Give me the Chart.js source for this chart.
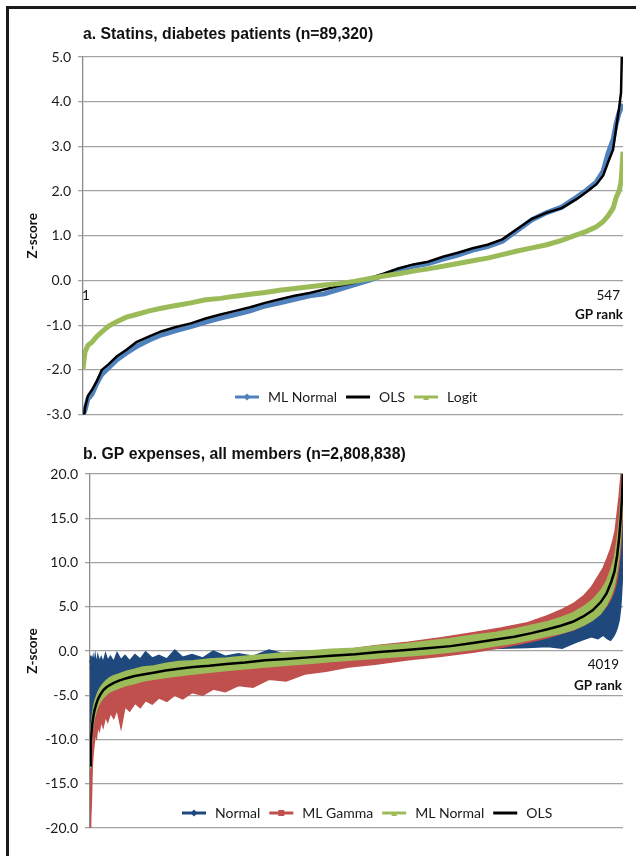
<!DOCTYPE html>
<html lang="en">
<head>
<meta charset="UTF-8">
<title>GP rank Z-scores</title>
<script src="https://cdn.jsdelivr.net/npm/chart.js@4.4.0/dist/chart.umd.min.js"></script>
<style>
  html, body { margin: 0; overflow: hidden; }
  body { background: #fff; width: 636px; height: 856px; position: relative; }
  .bar { position: absolute; background: #1a1a1a; }
  #barTop { left: 6px; top: 6px; width: 630px; height: 3px; }
  #barLeft { left: 6px; top: 6px; width: 3px; height: 850px; }
  canvas { position: absolute; left: 0; }
  #chartA { top: 0; }
  #chartB { top: 430px; }
</style>
</head>
<body>
<div class="bar" id="barTop"></div>
<div class="bar" id="barLeft"></div>
<canvas id="chartA" width="636" height="430"></canvas>
<canvas id="chartB" width="636" height="426"></canvas>
<script>
// ---- panel a: statins, diabetes patients ----
const statinRanks = [1, 3, 6, 10, 15, 20, 27, 35, 45, 55, 68, 80, 95, 110, 125, 140, 155, 170, 185, 200,
  215, 230, 245, 260, 275, 290, 305, 320, 335, 350, 365, 380, 395, 410, 425, 440, 455, 470, 485, 500,
  510, 520, 527, 532, 537, 540, 543, 545, 546, 547];
const statinOLS = [-3.3, -2.85, -2.58, -2.45, -2.25, -2.0, -1.87, -1.7, -1.55, -1.38, -1.25, -1.14, -1.04, -0.96, -0.85, -0.76, -0.68, -0.6, -0.5, -0.42,
  -0.34, -0.28, -0.2, -0.12, -0.05, 0.05, 0.15, 0.27, 0.36, 0.42, 0.53, 0.62, 0.72, 0.8, 0.92, 1.15, 1.38, 1.52, 1.62, 1.82,
  1.98, 2.15, 2.35, 2.65, 2.93, 3.4, 3.85, 4.2, 5.2, 6.5];
const statinMLNormal = [-3.0, -2.9, -2.65, -2.55, -2.3, -2.1, -1.95, -1.78, -1.62, -1.48, -1.33, -1.22, -1.12, -1.03, -0.93, -0.84, -0.76, -0.68, -0.57, -0.5,
  -0.42, -0.34, -0.3, -0.2, -0.1, 0.0, 0.12, 0.24, 0.32, 0.38, 0.48, 0.57, 0.68, 0.76, 0.88, 1.12, 1.36, 1.52, 1.64, 1.86,
  2.02, 2.2, 2.45, 2.85, 3.15, 3.5, 3.75, 3.85, 3.9, 3.95];
const statinLogit = [-1.98, -1.6, -1.45, -1.38, -1.25, -1.15, -1.02, -0.92, -0.82, -0.76, -0.68, -0.62, -0.56, -0.5, -0.43, -0.4, -0.35, -0.31, -0.27, -0.22,
  -0.18, -0.14, -0.1, -0.07, -0.02, 0.04, 0.1, 0.15, 0.21, 0.26, 0.32, 0.38, 0.44, 0.5, 0.58, 0.66, 0.73, 0.8, 0.9, 1.02,
  1.1, 1.2, 1.32, 1.45, 1.62, 1.85, 2.0, 2.2, 2.5, 2.88];
const statinTicks = [-3, -2, -1, 0, 1, 2, 3, 4, 5];

// ---- panel b: GP expenses, all members ----
// OLS and ML Normal band
const expRanks = [1, 4, 8, 12, 18, 25, 35, 48, 62, 80, 100, 125, 150, 180, 220, 270, 330, 400, 480, 570,
  670, 780, 900, 1030, 1170, 1320, 1480, 1650, 1820, 2000, 2180, 2360, 2540, 2720, 2900, 3060, 3200, 3330, 3450, 3550,
  3640, 3720, 3790, 3850, 3895, 3930, 3955, 3975, 3990, 4002, 4010, 4015, 4019];
const expOLS = [-12.9, -11.8, -10.3, -9.3, -8.3, -7.5, -6.7, -6.0, -5.4, -4.9, -4.45, -4.1, -3.85, -3.6, -3.35, -3.1, -2.85, -2.65, -2.45, -2.2,
  -2.0, -1.82, -1.68, -1.48, -1.3, -1.05, -0.9, -0.72, -0.55, -0.38, -0.12, 0.08, 0.3, 0.55, 0.92, 1.3, 1.62, 2.02, 2.45, 2.85,
  3.3, 3.9, 4.6, 5.5, 6.5, 7.8, 9.0, 10.8, 12.8, 15.0, 17.0, 18.8, 21.0];
const expMLNormalLo = [-13.2, -12.8, -11.5, -10.2, -9.1, -8.3, -7.5, -6.8, -6.2, -5.7, -5.3, -4.9, -4.6, -4.4, -4.2, -3.9, -3.7, -3.4, -3.2, -3.0,
  -2.8, -2.6, -2.4, -2.2, -2.0, -1.8, -1.6, -1.4, -1.2, -1.0, -0.8, -0.6, -0.4, -0.1, 0.2, 0.6, 0.9, 1.3, 1.7, 2.0,
  2.4, 2.9, 3.5, 4.2, 5.2, 6.3, 7.5, 9.2, 11.0, 13.2, 15.2, 17.0, 19.0];
const expMLNormalHi = [-12.3, -10.5, -9.2, -8.2, -7.3, -6.6, -5.8, -5.2, -4.6, -4.1, -3.7, -3.3, -3.0, -2.8, -2.6, -2.3, -2.1, -1.8, -1.7, -1.4,
  -1.2, -1.1, -0.9, -0.8, -0.6, -0.4, -0.2, 0.0, 0.2, 0.3, 0.6, 0.8, 1.1, 1.4, 1.8, 2.1, 2.5, 2.9, 3.3, 3.8,
  4.3, 5.0, 5.8, 6.8, 7.9, 9.3, 10.6, 12.6, 14.6, 16.8, 18.8, 20.5, 22.0];
// Normal and ML Gamma bands (spiky edges, read at a denser set of ranks)
const spreadRanks = [1, 4, 8, 12, 18, 25, 32, 40, 50, 60, 72, 85, 100, 118, 135, 155, 180, 205, 235, 265,
  300, 340, 380, 420, 470, 520, 580, 640, 700, 770, 850, 930, 1020, 1120, 1230, 1350, 1480, 1620, 1780, 1950,
  2150, 2400, 2650, 2900, 3100, 3300, 3450, 3560, 3650, 3720, 3780, 3830, 3870, 3900, 3925, 3945, 3960, 3975, 3990, 4002,
  4010, 4015, 4019];
const expGammaLo = [-20.5, -20.5, -19, -16.5, -13, -11.5, -10.5, -9.4, -9.8, -8.5, -9.0, -7.9, -8.6, -7.4, -8.0, -7.0, -7.6, -6.6, -8.7, -6.3,
  -6.8, -5.9, -6.4, -5.6, -6.0, -5.3, -5.7, -5.0, -5.4, -4.7, -5.0, -4.3, -4.6, -3.9, -4.1, -3.2, -3.4, -2.6, -2.3, -1.8,
  -1.5, -1.0, -0.6, -0.1, 0.4, 1.0, 1.5, 2.0, 2.4, 2.9, 3.4, 4.0, 4.6, 5.2, 5.8, 6.5, 7.2, 8.2, 9.8, 11.8,
  14.0, 16.0, 18.0];
const expGammaHi = [-9.5, -11, -10.5, -10, -9, -8.0, -7.4, -6.8, -6.3, -5.9, -5.6, -5.3, -5.0, -4.8, -4.6, -4.4, -4.2, -4.0, -3.8, -3.6,
  -3.4, -3.2, -3.1, -3.0, -2.9, -2.8, -2.7, -2.6, -2.5, -2.4, -2.3, -2.1, -1.9, -1.8, -1.6, -1.3, -1.0, -0.8, -0.3, 0.2,
  0.6, 1.0, 1.5, 2.1, 2.6, 3.2, 4.0, 4.7, 5.4, 6.2, 7.2, 8.4, 9.4, 10.5, 11.5, 12.6, 13.6, 15.5, 17.5, 19.5,
  21, 21, 21];
const expNormalLo = [-12.5, -11.5, -10, -9, -8, -7.2, -6.7, -6.2, -5.8, -5.4, -5.0, -4.7, -4.4, -4.1, -3.9, -3.7, -3.5, -3.3, -3.2, -3.0,
  -2.9, -2.8, -2.7, -2.6, -2.5, -2.4, -2.3, -2.2, -2.1, -2.0, -1.9, -1.8, -1.7, -1.6, -1.4, -1.3, -1.1, -1.0, -0.8, -0.6,
  -0.4, -0.1, 0.1, 0.2, 0.3, 0.4, 0.5, 0.3, 0.9, 1.3, 1.6, 1.4, 1.8, 1.4, 1.2, 1.6, 2.0, 2.6, 3.5, 5.0,
  7.0, 8.5, 10.0];
const expNormalHi = [-2.5, -0.5, -1.8, -0.6, -1.5, -0.7, -1.4, -0.5, -1.6, -0.5, -1.2, -0.7, -1.3, -0.3, -1.1, -0.6, -1.2, -0.2, -1.0, -0.5,
  -1.1, -0.4, -0.9, -0.1, -0.8, -0.5, -0.9, 0.1, -0.7, -0.4, -0.8, 0.0, -0.6, -0.3, -0.6, 0.1, -0.4, -0.2, -0.3, -0.1,
  0.0, 0.2, 0.4, 0.7, 1.0, 1.4, 1.8, 2.3, 2.8, 3.4, 3.9, 4.5, 5.0, 5.5, 6.2, 7.0, 8.0, 9.8, 12.0, 14.0,
  16.0, 17.0, 17.0];
const expTicks = [-20, -15, -10, -5, 0, 5, 10, 15, 20];

const pts = (xs, ys) => xs.map((x, i) => ({ x: x, y: ys[i] }));

// titles, rank labels and the in-plot legend
const panelText = {
  id: 'panelText',
  beforeDatasetsDraw(chart, args, o) {
    const ctx = chart.ctx;
    ctx.save();
    ctx.fillStyle = '#111';
    ctx.textAlign = 'left';
    ctx.textBaseline = 'alphabetic';
    ctx.font = 'bold 15.8px "Liberation Sans", Arial, sans-serif';
    ctx.fillText(o.title, o.titleX, o.titleY);
    ctx.textBaseline = 'middle';
    ctx.font = '13.5px Lato, sans-serif';
    ctx.fillText('1', o.firstX, o.rankY);
    ctx.textAlign = 'right';
    ctx.fillText(o.lastRank, o.lastX, o.rankY);
    ctx.font = 'bold 13.5px Lato, sans-serif';
    ctx.fillText('GP rank', o.rankTitleX, o.rankTitleY);
    ctx.restore();
  },
  afterDraw(chart, args, o) {
    const ctx = chart.ctx;
    ctx.save();
    ctx.font = '14px Lato, sans-serif';
    ctx.textBaseline = 'middle';
    ctx.textAlign = 'left';
    let x = o.legendX;
    const y = o.legendY;
    o.legend.forEach(item => {
      ctx.strokeStyle = item.color;
      ctx.lineWidth = item.width;
      ctx.beginPath();
      ctx.moveTo(x, y);
      ctx.lineTo(x + 24, y);
      ctx.stroke();
      const cx = x + 12;
      ctx.fillStyle = item.color;
      ctx.beginPath();
      if (item.marker === 'diamond') {
        ctx.moveTo(cx, y - 3.5); ctx.lineTo(cx + 3.5, y); ctx.lineTo(cx, y + 3.5); ctx.lineTo(cx - 3.5, y);
      } else if (item.marker === 'square') {
        ctx.rect(cx - 3, y - 3, 6, 6);
      } else if (item.marker === 'triangle') {
        ctx.moveTo(cx, y - 1); ctx.lineTo(cx + 3, y + 3); ctx.lineTo(cx - 3, y + 3);
      }
      ctx.closePath();
      if (item.marker) ctx.fill();
      ctx.fillStyle = '#1a1a1a';
      ctx.fillText(item.label, x + 33, y + 0.5);
      x += 33 + ctx.measureText(item.label).width + 9;
    });
    ctx.restore();
  }
};

function makeOptions(cfg) {
  return {
    responsive: false,
    animation: false,
    layout: { padding: cfg.pad },
    elements: { point: { radius: 0 }, line: { tension: 0 } },
    scales: {
      x: { type: 'linear', display: false, min: cfg.xMin, max: cfg.xMax },
      y: {
        min: cfg.ticks[0],
        max: cfg.ticks[cfg.ticks.length - 1],
        afterFit: s => { s.width = cfg.yWidth; },
        afterBuildTicks: s => { s.ticks = cfg.ticks.map(v => ({ value: v })); },
        ticks: { callback: v => v.toFixed(1), font: { family: 'Lato', size: 14 }, color: '#1a1a1a', padding: 7 },
        grid: { color: '#a3a3a3', lineWidth: 1.3, tickLength: 5 },
        border: { color: '#8c8c8c', width: 1.3 },
        title: {
          display: true, text: 'Z-score', color: '#111',
          font: { family: 'Lato', size: 13.5, weight: 'bold' },
          padding: { top: 25, bottom: 0 }
        }
      }
    },
    plugins: { legend: { display: false }, tooltip: { enabled: false }, panelText: cfg.text }
  };
}

new Chart(document.getElementById('chartA'), {
  type: 'line',
  data: {
    datasets: [
      { label: 'ML Normal', data: pts(statinRanks, statinMLNormal), borderColor: '#4F81BD', borderWidth: 5, order: 3 },
      { label: 'OLS', data: pts(statinRanks, statinOLS), borderColor: '#000', borderWidth: 2.5, order: 2 },
      { label: 'Logit', data: pts(statinRanks, statinLogit), borderColor: '#9BBB59', borderWidth: 5, order: 1 }
    ]
  },
  options: makeOptions({
    pad: { left: 0, top: 57, right: 13, bottom: 12 },
    yWidth: 83, xMin: 1, xMax: 547, ticks: statinTicks,
    text: {
      title: 'a. Statins, diabetes patients (n=89,320)', titleX: 83, titleY: 39,
      firstX: 82, lastRank: '547', lastX: 620, rankY: 296, rankTitleX: 623, rankTitleY: 315,
      legendX: 235, legendY: 397,
      legend: [
        { label: 'ML Normal', color: '#4F81BD', width: 3, marker: 'diamond' },
        { label: 'OLS', color: '#000', width: 3 },
        { label: 'Logit', color: '#9BBB59', width: 3, marker: 'triangle' }
      ]
    }
  }),
  plugins: [panelText]
});

new Chart(document.getElementById('chartB'), {
  type: 'line',
  data: {
    datasets: [
      { label: 'Normal lo', data: pts(spreadRanks, expNormalLo), borderColor: '#1F497D', borderWidth: 1.5, fill: false },
      { label: 'Normal', data: pts(spreadRanks, expNormalHi), borderColor: '#1F497D', borderWidth: 1.5, fill: '-1', backgroundColor: '#1F497D' },
      { label: 'ML Gamma lo', data: pts(spreadRanks, expGammaLo), borderColor: '#C0504D', borderWidth: 1.5, fill: false },
      { label: 'ML Gamma', data: pts(spreadRanks, expGammaHi), borderColor: '#C0504D', borderWidth: 1.5, fill: '-1', backgroundColor: '#C0504D' },
      { label: 'ML Normal lo', data: pts(expRanks, expMLNormalLo), borderColor: '#9BBB59', borderWidth: 1.5, fill: false },
      { label: 'ML Normal', data: pts(expRanks, expMLNormalHi), borderColor: '#9BBB59', borderWidth: 1.5, fill: '-1', backgroundColor: '#9BBB59' },
      { label: 'OLS', data: pts(expRanks, expOLS), borderColor: '#000', borderWidth: 2.5, fill: false }
    ].map((d, i, all) => Object.assign(d, { order: all.length - i }))
  },
  options: makeOptions({
    pad: { left: 0, top: 44, right: 13, bottom: 28 },
    yWidth: 90, xMin: 1, xMax: 4019, ticks: expTicks,
    text: {
      title: 'b. GP expenses, all members (n=2,808,838)', titleX: 83, titleY: 29,
      firstX: 88, lastRank: '4019', lastX: 619, rankY: 235, rankTitleX: 622, rankTitleY: 256,
      legendX: 182, legendY: 383,
      legend: [
        { label: 'Normal', color: '#1F497D', width: 3, marker: 'diamond' },
        { label: 'ML Gamma', color: '#C0504D', width: 3, marker: 'square' },
        { label: 'ML Normal', color: '#9BBB59', width: 3, marker: 'triangle' },
        { label: 'OLS', color: '#000', width: 3 }
      ]
    }
  }),
  plugins: [panelText]
});
</script>
</body>
</html>
